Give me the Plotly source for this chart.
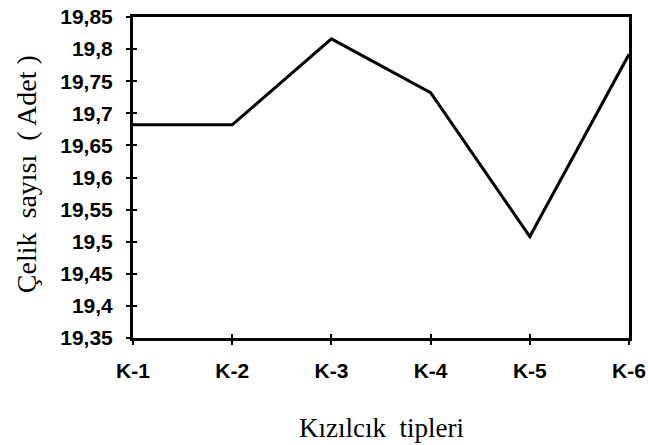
import plotly.graph_objects as go

categories = ["K-1", "K-2", "K-3", "K-4", "K-5", "K-6"]
values = [19.682, 19.682, 19.816, 19.732, 19.508, 19.792]
y_ticks = [19.35, 19.4, 19.45, 19.5, 19.55, 19.6, 19.65, 19.7, 19.75, 19.8, 19.85]
y_tick_labels = ["19,35", "19,4", "19,45", "19,5", "19,55", "19,6", "19,65", "19,7", "19,75", "19,8", "19,85"]
x_title = "Kızılcık  tipleri"
y_title = "Çelik  sayısı  ( Adet )"

xpos = list(range(len(categories)))

fig = go.Figure()
fig.add_trace(go.Scatter(x=xpos, y=values, mode="lines",
                         line=dict(color="black", width=3), cliponaxis=False,
                         showlegend=False))
# overlay trace for inner tick marks
fig.add_trace(go.Scatter(x=xpos, y=values, mode="lines", xaxis="x2", yaxis="y2",
                         line=dict(color="rgba(0,0,0,0)", width=0), showlegend=False,
                         hoverinfo="skip"))

tickfont = dict(family="Liberation Sans", size=21, color="black")
titlefont = dict(family="Liberation Serif", size=27, color="black")

fig.update_layout(
    width=648, height=445,
    margin=dict(l=133, r=19, t=17, b=107, autoexpand=False),
    paper_bgcolor="white", plot_bgcolor="white",
    xaxis=dict(range=[0, 5], tickvals=xpos, ticktext=["<b>%s</b>" % c for c in categories],
               ticks="outside", ticklen=4, tickwidth=2, tickcolor="black",
               showline=True, linewidth=3, linecolor="black", mirror=True,
               showgrid=False, zeroline=False, tickfont=tickfont, automargin=False,
               ticklabelstandoff=8),
    yaxis=dict(range=[19.35, 19.85], tickvals=y_ticks,
               ticktext=["<b>%s</b>" % t for t in y_tick_labels],
               ticks="outside", ticklen=4, tickwidth=2, tickcolor="black",
               showline=True, linewidth=3, linecolor="black", mirror=True,
               showgrid=False, zeroline=False, tickfont=tickfont, automargin=False,
               ticklabelstandoff=9),
    xaxis2=dict(range=[0, 5], overlaying="x", tickvals=xpos, ticks="inside",
                ticklen=4, tickwidth=2, tickcolor="black", showticklabels=False,
                showgrid=False, zeroline=False, showline=False, automargin=False),
    yaxis2=dict(range=[19.35, 19.85], overlaying="y", tickvals=y_ticks, ticks="inside",
                ticklen=4, tickwidth=2, tickcolor="black", showticklabels=False,
                showgrid=False, zeroline=False, showline=False, automargin=False),
    annotations=[
        dict(text=x_title, xref="paper", yref="paper", x=0.5, y=-0.28,
             xanchor="center", yanchor="middle", showarrow=False, font=titlefont),
        dict(text=y_title, xref="paper", yref="paper", x=-0.216, y=0.51,
             xanchor="center", yanchor="middle", showarrow=False,
             font=dict(family="Liberation Serif", size=28, color="black"),
             textangle=-90),
    ],
)

fig.write_html("out.html", config={"displayModeBar": False},
               post_script="document.body.style.margin='0';document.body.style.overflow='hidden';")
